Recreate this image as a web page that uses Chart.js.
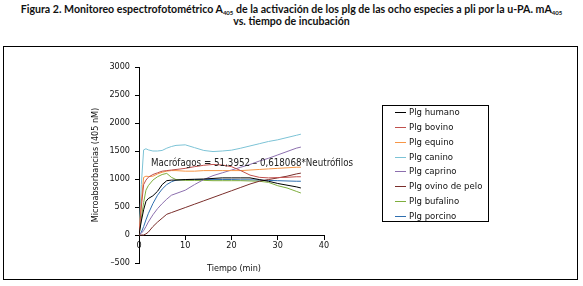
<!DOCTYPE html>
<html><head><meta charset="utf-8">
<script src="https://cdn.jsdelivr.net/npm/chart.js@4/dist/chart.umd.min.js"></script>
<style>
html,body{margin:0;padding:0;background:#fff;width:583px;height:286px;overflow:hidden}
#title{position:absolute;left:0;top:4px;width:583px;text-align:center;font-family:Lato,'DejaVu Sans',sans-serif;font-weight:bold;font-size:10.6px;line-height:11.5px;color:#111}
#title sub{font-size:6px;vertical-align:-2px;line-height:0}
#frame{position:absolute;left:3px;top:46px;width:573px;height:232px;border:1px solid #000}
canvas{position:absolute;left:0;top:0}
</style></head><body>
<div id="title">Figura 2. Monitoreo espectrofotométrico A<sub>405</sub> de la activación de los plg de las ocho especies a pli por la u-PA. mA<sub>405</sub><br>vs. tiempo de incubación</div>
<div id="frame"></div>
<canvas id="c" width="583" height="286"></canvas>
<script>
const seriesNames = ["Plg humano","Plg bovino","Plg equino","Plg canino","Plg caprino","Plg ovino de pelo","Plg bufalino","Plg porcino"];
const times    = [0,0.5,1,1.5,2,3,4,5,6,7,8,10,12,14,16,18,20,22,24,26,28,30,32,34,35];
const humano   = [0,250,450,600,650,700,780,900,970,980,980,990,995,1000,1010,1020,1020,1020,1020,990,960,920,890,860,840];
const bovino   = [0,500,900,980,1030,1080,1110,1140,1150,1160,1170,1190,1220,1245,1260,1250,1220,1150,1070,1030,1020,1025,1030,1040,1040];
const equino   = [0,600,1030,1050,1045,1050,1090,1120,1140,1150,1150,1140,1140,1150,1150,1150,1150,1150,1160,1170,1180,1190,1200,1210,1210];
const canino   = [0,900,1520,1540,1520,1500,1500,1510,1550,1580,1600,1610,1560,1510,1490,1500,1515,1550,1590,1630,1670,1700,1740,1780,1800];
const caprino  = [0,30,80,150,230,360,470,560,640,710,740,800,900,990,1060,1110,1160,1210,1260,1320,1370,1430,1490,1550,1570];
const ovino    = [0,0,0,20,50,150,230,300,370,400,430,490,550,610,670,730,790,850,910,960,990,1020,1050,1090,1105];
const bufalino = [0,300,580,800,880,980,1040,1080,1100,1030,990,975,975,975,970,970,970,970,965,960,940,880,840,780,750];
const porcino  = [0,50,150,270,380,560,710,820,900,950,980,990,990,990,990,990,990,985,985,980,975,970,965,960,960];
const seriesValues = [humano,bovino,equino,canino,caprino,ovino,bufalino,porcino];
const colors = ["#000000","#c0504d","#f79646","#7cc3d6","#8c6fae","#7a2e2b","#7fae3e","#2f6fb0"];
const yTicks = [-500,0,500,1000,1500,2000,2500,3000];
const xTicks = [0,10,20,30,40];
const regressionText = "Macrófagos = 51,3952 – 0,618068*Neutrófilos";
const xTitle = "Tiempo (min)";
const yTitle = "Microabsorbancias (405 nM)";

const FONT = "'DejaVu Sans Condensed','DejaVu Sans',sans-serif";

const datasets = seriesNames.map((n,i)=>({
  label:n,
  data: times.map((t,j)=>({x:t,y:seriesValues[i][j]})),
  borderColor:colors[i], backgroundColor:colors[i],
  borderWidth:1, pointRadius:0, tension:0, fill:false
}));

const extras = {
  id:'extras',
  afterDatasetsDraw(chart){
    const ctx = chart.ctx;
    ctx.save();
    ctx.fillStyle = '#222';
    ctx.font = "9.7px " + FONT;
    ctx.textBaseline = 'middle';
    ctx.textAlign = 'left';
    ctx.fillText(regressionText, 151, 163);
    ctx.restore();
  },
  afterDraw(chart){
    const ctx = chart.ctx;
    ctx.save();
    ctx.fillStyle = '#111';
    ctx.font = "9px " + FONT;
    ctx.textAlign = 'center'; ctx.textBaseline = 'middle';
    ctx.fillText(xTitle, 234, 269);
    ctx.translate(96, 165); ctx.rotate(-Math.PI/2);
    ctx.fillText(yTitle, 0, 0);
    ctx.restore();
    ctx.save();
    ctx.strokeStyle = '#000'; ctx.lineWidth = 1;
    ctx.strokeRect(382.5, 105.5, 106, 116);
    ctx.font = "9.5px " + FONT;
    ctx.textAlign = 'left'; ctx.textBaseline = 'middle';
    chart.data.datasets.forEach((ds,i)=>{
      const y = Math.round(112.3 + i*14.77) + 0.5;
      ctx.strokeStyle = ds.borderColor; ctx.lineWidth = 1;
      ctx.beginPath(); ctx.moveTo(395, y); ctx.lineTo(406, y); ctx.stroke();
      ctx.fillStyle = '#111';
      ctx.fillText(ds.label, 409, y);
    });
    ctx.restore();
  }
};

new Chart(document.getElementById('c'), {
  type:'line',
  data:{datasets},
  options:{
    responsive:false, animation:false,
    layout:{padding:{left:99,top:67,right:259,bottom:23}},
    plugins:{legend:{display:false},tooltip:{enabled:false}},
    scales:{
      x:{type:'linear', min:0, max:40, position:{y:0},
        afterBuildTicks(ax){ ax.ticks = xTicks.map(v=>({value:v})); },
        grid:{drawOnChartArea:false, drawTicks:true, tickLength:4, color:'#000'},
        border:{display:true,color:'#000',width:1},
        ticks:{color:'#111', font:{size:9,family:FONT}, padding:1, maxRotation:0}
      },
      y:{type:'linear', min:-500, max:3000, position:'left',
        afterBuildTicks(ax){ ax.ticks = yTicks.map(v=>({value:v})); },
        afterFit(ax){ ax.width = 40; },
        grid:{drawOnChartArea:false, drawTicks:true, tickLength:4, color:'#000'},
        border:{display:true,color:'#000',width:1},
        ticks:{color:'#111', font:{size:9,family:FONT}, padding:5,
          callback:v=> (v<0 ? '–'+Math.abs(v) : String(v))}
      }
    }
  },
  plugins:[extras]
});
</script>
</body></html>
